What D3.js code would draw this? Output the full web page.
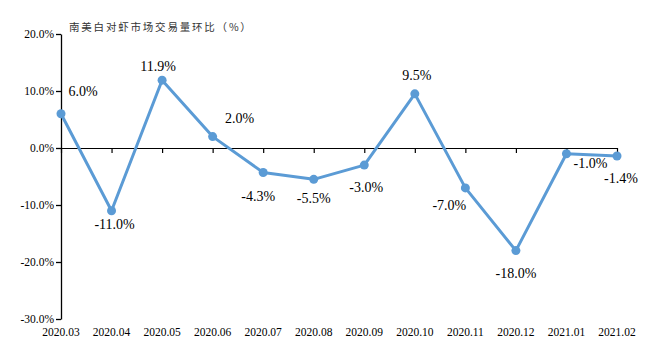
<!DOCTYPE html>
<html>
<head>
<meta charset="utf-8">
<script src="https://cdn.jsdelivr.net/npm/d3@7"></script>
<style>
  body { margin: 0; background: #fff; }
  svg { display: block; }
</style>
</head>
<body>
<div id="chart"></div>
<script>
// data
var months = ["2020.03","2020.04","2020.05","2020.06","2020.07","2020.08","2020.09","2020.10","2020.11","2020.12","2021.01","2021.02"];
var changes = [6.0, -11.0, 11.9, 2.0, -4.3, -5.5, -3.0, 9.5, -7.0, -18.0, -1.0, -1.4];
var yTicks = [20, 10, 0, -10, -20, -30];
var chartTitle = "南美白对虾市场交易量环比（%）";

// label placement (dx, dy from point, text centre)
var labelNudge = [[22,-18],[3,18],[-4,-9],[27,-14],[-5,28],[0,24],[2,27],[2,-14],[-16,22],[0,27],[24,14],[4,27]];

var margin = {top: 34, right: 33, bottom: 35, left: 61},
    width = 650 - margin.left - margin.right,
    height = 354 - margin.top - margin.bottom;

var svg = d3.select("#chart").append("svg")
    .attr("width", 650)
    .attr("height", 354);

var g = svg.append("g")
    .attr("transform", "translate(" + margin.left + "," + margin.top + ")");

var x = d3.scalePoint()
    .domain(months)
    .range([0, 556]);

var y = d3.scaleLinear()
    .domain([-30, 20])
    .range([285, 0]);

// y axis
var yAxis = g.append("g")
    .call(d3.axisLeft(y).tickValues(yTicks).tickSize(5).tickSizeOuter(0)
      .tickFormat(function(d) { return d.toFixed(1) + "%"; }));
yAxis.select(".domain").attr("stroke", "#000").attr("stroke-width", 1.3);
yAxis.selectAll(".tick line").attr("stroke", "#000").attr("stroke-width", 1.3);
yAxis.selectAll("text")
    .attr("x", -7)
    .style("font-family", "'Liberation Serif', 'Times New Roman', serif")
    .style("font-size", "11.5px")
    .attr("fill", "#000");

// x axis at zero
var xAxis = g.append("g")
    .attr("transform", "translate(0," + y(0) + ")")
    .call(d3.axisBottom(x).tickSize(5).tickSizeOuter(0).tickFormat(""));
xAxis.select(".domain").attr("stroke", "#000").attr("stroke-width", 1.2);
xAxis.selectAll(".tick line").attr("stroke", "#000").attr("stroke-width", 1.2);

// category labels at the bottom
g.append("g").selectAll("text")
    .data(months)
  .enter().append("text")
    .attr("x", function(d) { return x(d); })
    .attr("y", y(-30) + 17)
    .attr("text-anchor", "middle")
    .style("font-family", "'Liberation Serif', 'Times New Roman', serif")
    .style("font-size", "11.5px")
    .attr("fill", "#000")
    .text(function(d) { return d; });

// line
var line = d3.line()
    .x(function(d, i) { return x(months[i]); })
    .y(function(d) { return y(d); });

g.append("path")
    .datum(changes)
    .attr("fill", "none")
    .attr("stroke", "#5B9BD5")
    .attr("stroke-width", 3)
    .attr("stroke-linejoin", "round")
    .attr("d", line);

g.append("g").selectAll("circle")
    .data(changes)
  .enter().append("circle")
    .attr("cx", function(d, i) { return x(months[i]); })
    .attr("cy", function(d) { return y(d); })
    .attr("r", 4.5)
    .attr("fill", "#5B9BD5");

// value labels
g.append("g").selectAll("text")
    .data(changes)
  .enter().append("text")
    .attr("x", function(d, i) { return x(months[i]) + labelNudge[i][0]; })
    .attr("y", function(d, i) { return y(d) + labelNudge[i][1]; })
    .attr("text-anchor", "middle")
    .style("font-family", "'Liberation Serif', 'Times New Roman', serif")
    .style("font-size", "14px")
    .attr("fill", "#000")
    .text(function(d) { return d.toFixed(1) + "%"; });

// title
svg.append("text")
    .attr("x", 69)
    .attr("y", 31)
    .style("font-family", "'Noto Sans CJK SC', sans-serif")
    .style("font-size", "10.5px")
    .style("letter-spacing", "1.8px")
    .attr("fill", "#333")
    .text(chartTitle);
</script>
</body>
</html>
